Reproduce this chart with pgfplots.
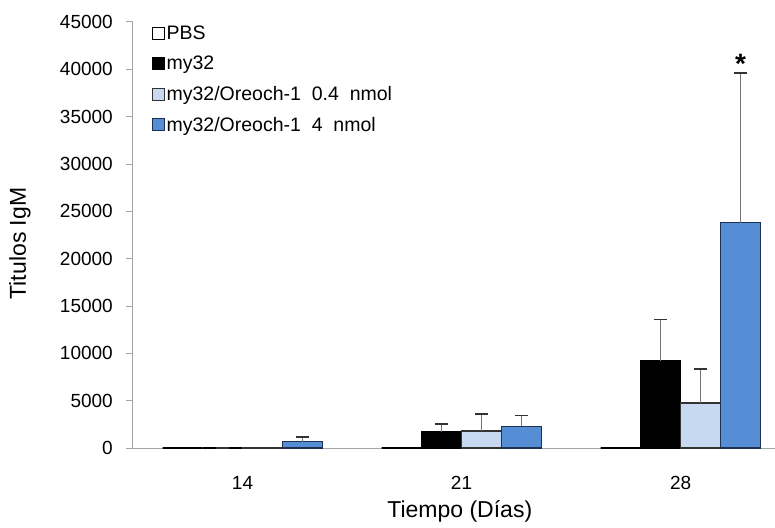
\documentclass[border=0pt]{standalone}
\usepackage{fontspec}
\setmainfont{Liberation Sans}
\usepackage{pgfplots}
\pgfplotsset{compat=1.18}
\definecolor{bblue}{HTML}{558ED5}
\definecolor{lblue}{HTML}{C6D9F1}
\definecolor{navy}{HTML}{1F2F4F}
\definecolor{axgray}{HTML}{A6A6A6}
\newcommand\fs[1]{\fontsize{#1}{#1}\selectfont}
\begin{document}
\begin{tikzpicture}
\useasboundingbox (-133pt,-79pt) rectangle (642pt,448pt);
\begin{axis}[
  at={(0,0)}, anchor=south west,
  scale only axis, width=642pt, height=426pt,
  xmin=-0.5, xmax=2.431, ymin=0, ymax=45000,
  axis x line*=bottom, axis y line*=left,
  axis line style={axgray, line width=1pt},
  ybar=0pt, bar width=40pt,
  legend image code/.code={\draw[#1, line width=1pt] (-2pt,-6pt) rectangle (10pt,6pt);},
  xtick={0,1,2}, xticklabels={14,21,28},
  major x tick style={draw=none},
  extra x ticks={-0.5,0.5,1.5}, extra x tick labels={},
  extra x tick style={major tick length=8pt, tick align=outside, major tick style={axgray, line width=1pt}},
  ytick={0,5000,...,45000},
  scaled y ticks=false,
  major tick length=7pt, tick align=outside,
  y tick style={axgray, line width=1pt},
  /pgf/number format/1000 sep={},
  /pgf/number format/assume math mode=true,
  tick label style={font=\fs{19}},
  x tick label style={anchor=center, yshift=-28pt},
  y tick label style={anchor=east, inner xsep=0pt, xshift=-13pt},
  xlabel={Tiempo (Días)},
  ylabel={Titulos IgM},
  xlabel style={font=\fs{23}, at={(axis description cs:0.509,-0.150)}, anchor=center},
  ylabel style={font=\fs{23}, at={(axis description cs:-0.176,0.48)}, anchor=center, rotate=0},
  legend style={draw=none, fill=none, font=\fs{19.5}, at={(axis description cs:0.024,1.0)}, anchor=north west, row sep=11pt, nodes={inner sep=2pt}},
  legend cell align=left,
  error bars/y dir=plus, error bars/y explicit,
  error bars/error bar style={draw=gray!90!black, line width=1pt},
  error bars/error mark options={rotate=90, mark size=6.5pt, draw=black!80, line width=1.3pt},
  clip=false,
]
\addplot[fill=white, draw=black, line width=1.2pt] coordinates {(0,0) (1,0) (2,0)};
\addplot[fill=black, draw=black, line width=1.2pt] coordinates {(0,0) +- (0,0) (1,1700) +- (0,850) (2,9200) +- (0,4400)};
\addplot[fill=lblue, draw=black!80, line width=1.2pt] coordinates {(0,0) +- (0,0) (1,1800) +- (0,1800) (2,4750) +- (0,3600)};
\addplot[fill=bblue, draw=navy, line width=1.2pt] coordinates {(0,650) +- (0,500) (1,2300) +- (0,1100) (2,23800) +- (0,15800)};
\legend{PBS, my32, my32/Oreoch-1\ \ 0.4\ \ nmol, my32/Oreoch-1\ \ 4\ \ nmol}
\node[font=\fs{28}\bfseries] at (axis cs:2.274,40600) {*};
\end{axis}
\end{tikzpicture}
\end{document}
